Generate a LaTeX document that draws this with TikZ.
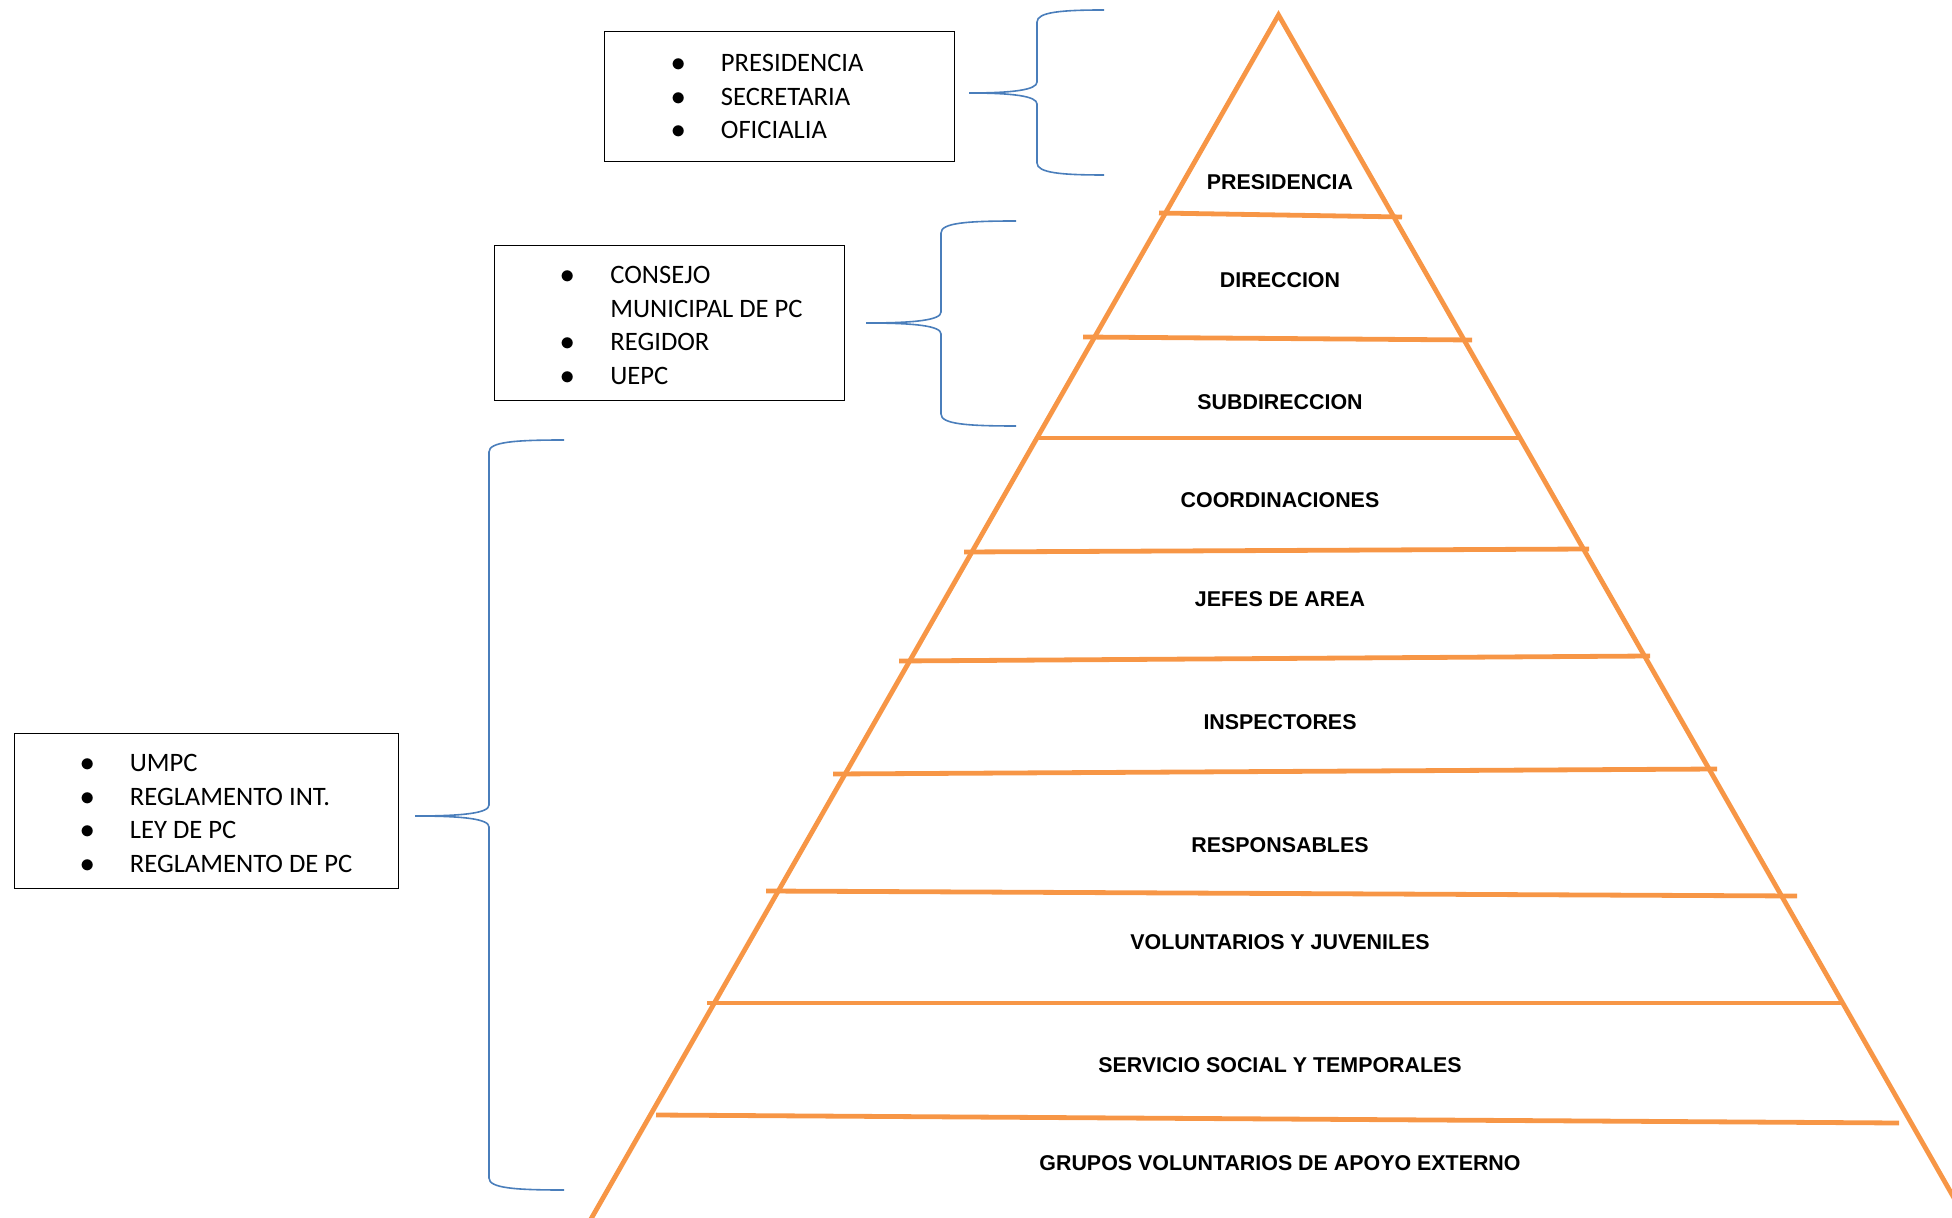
\documentclass[tikz,border=0pt]{standalone}
\usepackage{fontspec}
\setmainfont{Carlito}
\newfontfamily\arialfont{Liberation Sans}
\usepackage{xcolor}
\usepackage{tikz}
\usetikzlibrary{positioning,calc}

\definecolor{naranjaof}{RGB}{247,150,70}
\definecolor{azulof}{RGB}{74,126,187}

\newcommand{\vineta}[1]{\makebox[21.25pt][l]{\makebox[0pt]{$\bullet$}}#1}
\newcommand{\sinvineta}[1]{\hspace*{21.25pt}#1}
% llave: punta x, punta y, x vertical, y arriba, y abajo, x extremos
\newcommand{\llave}[6]{%
  \draw[azul] (#6,#4) .. controls (#3+25,#4) and (#3,#4+2) .. (#3,#4+12)
     -- (#3,#2-11) .. controls (#3,#2-3) and (#3-25,#2) .. (#1,#2)
     .. controls (#3-25,#2) and (#3,#2+3) .. (#3,#2+11)
     -- (#3,#5-12) .. controls (#3,#5-2) and (#3+25,#5) .. (#6,#5);}

\begin{document}
\begin{tikzpicture}[x=0.5pt,y=-0.5pt,
    naranja/.style={draw=naranjaof, line width=2.4pt},
    azul/.style={draw=azulof, line width=0.8pt},
    caja/.style={draw, line width=0.6pt, inner sep=0pt, anchor=north west},
    lista/.style={inner sep=0pt, anchor=west, align=left, font=\fontsize{13.3}{16.75}\selectfont},
    nivel/.style={inner sep=0pt, font=\arialfont\bfseries\fontsize{10.7}{12}\selectfont}]
    \useasboundingbox (0,0) rectangle (1952,1218);

    % Piramide
    \begin{scope}
        \clip (0,0) rectangle (1952,1218);
        \draw[naranja] (579,1240) -- (1278.5,15) -- (1978,1240);
    \end{scope}

    % Niveles
    \foreach \xa/\ya/\xb/\yb in {1159/213/1402/217, 1083/337/1472/340, 1037/438/1521/438,
        964/552/1589/549, 899/661/1650/656, 833/774/1717/769, 766/891/1797/896,
        707/1003/1843/1003, 656/1115/1899/1123}
        \draw[naranja] (\xa,\ya) -- (\xb,\yb);

    \foreach \y/\txt [count=\i] in {182/PRESIDENCIA, 280/DIRECCION, 402/SUBDIRECCION,
        500/COORDINACIONES, 599/JEFES DE AREA, 722/INSPECTORES, 845/RESPONSABLES,
        942/VOLUNTARIOS Y JUVENILES, 1065/SERVICIO SOCIAL Y TEMPORALES,
        1163/GRUPOS VOLUNTARIOS DE APOYO EXTERNO}
        \node[nivel] (nivel\i) at (1280,\y) {\txt};

    % Cajas
    \node[caja, minimum width=175pt, minimum height=65pt] (caja1) at (604,31) {};
    \node[lista] (lista1) at ([xshift=37pt,yshift=0pt]caja1.west)
        {\vineta{PRESIDENCIA}\\ \vineta{SECRETARIA}\\ \vineta{OFICIALIA}};

    \node[caja, minimum width=175pt, minimum height=77.5pt] (caja2) at (494,245) {};
    \node[lista] (lista2) at ([xshift=36.75pt,yshift=-1.25pt]caja2.west)
        {\vineta{CONSEJO}\\ \sinvineta{MUNICIPAL DE PC}\\ \vineta{REGIDOR}\\ \vineta{UEPC}};

    \node[caja, minimum width=192pt, minimum height=77.5pt] (caja3) at (14,733) {};
    \node[lista] (lista3) at ([xshift=36.5pt,yshift=-1.25pt]caja3.west)
        {\vineta{UMPC}\\ \vineta{REGLAMENTO INT.}\\ \vineta{LEY DE PC}\\ \vineta{REGLAMENTO DE PC}};

    % Llaves
    \llave{969}{93}{1037}{10}{175}{1104}
    \llave{866}{323}{941}{221}{426}{1016}
    \llave{415}{816}{489}{440}{1190}{564}
\end{tikzpicture}
\end{document}
